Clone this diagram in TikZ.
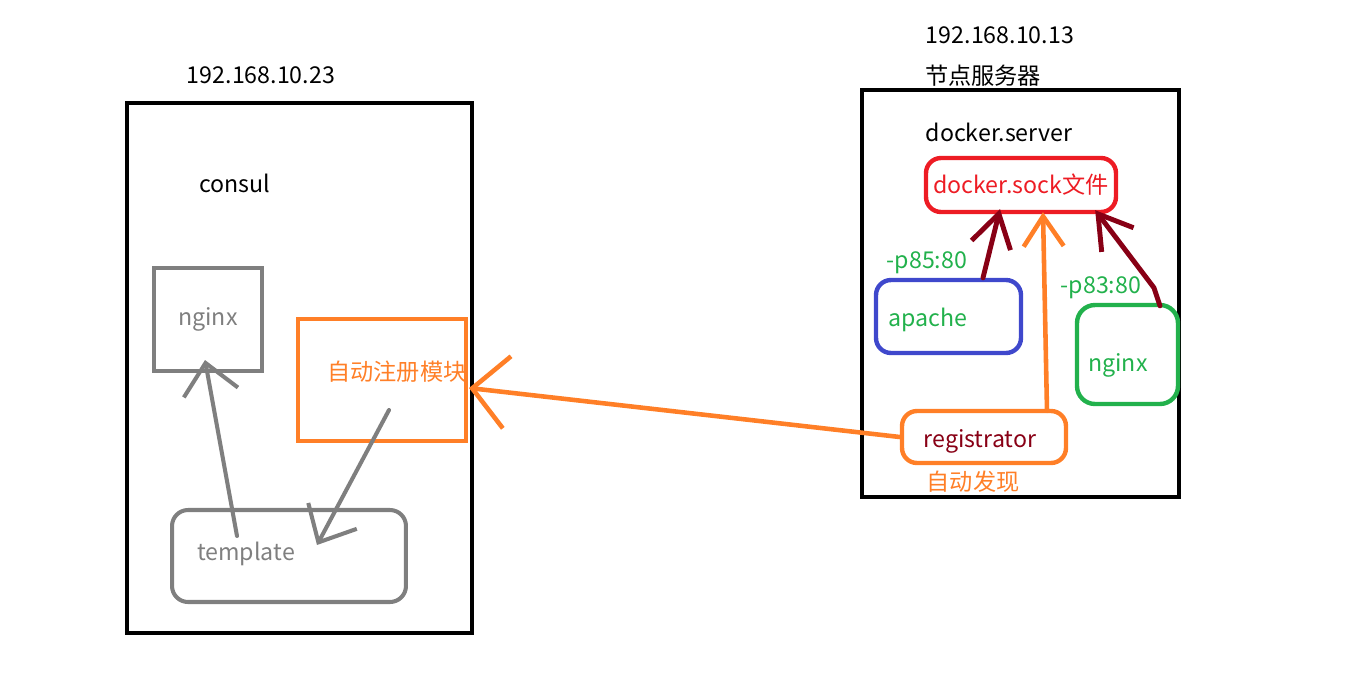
\documentclass[tikz,border=0pt]{standalone}
\usepackage{fontspec}
\setmainfont{Noto Sans CJK SC}
\usepackage{tikz}
\usetikzlibrary{positioning,arrows.meta,calc}
\definecolor{pgray}{HTML}{7F7F7F}
\definecolor{porange}{HTML}{FF7F27}
\definecolor{pred}{HTML}{ED1C24}
\definecolor{pblue}{HTML}{3F48CC}
\definecolor{pgreen}{HTML}{22B14C}
\definecolor{pdred}{HTML}{880015}

\begin{document}
\begin{tikzpicture}[x=0.02cm, y=-0.02cm, font=\fontsize{13.2}{15}\selectfont]
    \tikzstyle{frame}=[draw=black, line width=2.3pt, inner sep=0pt]
    \tikzstyle{gbox}=[draw=pgray, line width=2.3pt, text=pgray, inner sep=0pt]
    \tikzstyle{rbox}=[line width=2.5pt, rounded corners=0.3cm, inner sep=0pt]
    \tikzstyle{lbl}=[inner sep=0pt]
    \tikzstyle{garrow}=[draw=pgray, line width=2.3pt, line cap=round,
                        -{Straight Barb[length=0.6cm, width=1.1cm]}]
    \tikzstyle{oarrow}=[draw=porange, line width=2.6pt, line cap=round]
    \tikzstyle{darrow}=[draw=pdred, line width=2.8pt, line cap=round,
                        -{Straight Barb[length=0.65cm, width=0.8cm]}]

    \useasboundingbox (0,0) rectangle (1357,674);

    % consul host
    \node[frame, minimum width=6.9cm, minimum height=10.6cm] (left) at (299.5,368) {};
    \node[lbl] (ipl) at (261,75) {192.168.10.23};
    \node[lbl] (consul) at (235,183) {consul};
    \node[gbox, minimum width=2.16cm, minimum height=2.06cm] (ngl) at (208,319.5) {nginx};
    \node[gbox, rounded corners=0.32cm, minimum width=4.68cm, minimum height=1.84cm,
          label={[text=pgray, xshift=-0.86cm, yshift=0.04cm]center:template}] (tpl) at (289,556) {};
    \node[draw=porange, line width=2.3pt, inner sep=0pt, minimum width=3.36cm, minimum height=2.44cm,
          label={[text=porange, xshift=0.3cm, yshift=0.16cm]center:自动注册模块}] (auto) at (382,380) {};

    % node server
    \node[frame, minimum width=6.34cm, minimum height=8.14cm] (right) at (1020.5,293.5) {};
    \node[lbl] (ipr) at (1000,35) {192.168.10.13};
    \node[lbl] (srv) at (983,76) {节点服务器};
    \node[lbl] (dsrv) at (999,132) {docker.server};
    \node[rbox, draw=pred, text=pred, minimum width=3.8cm, minimum height=1.08cm] (sock) at (1021,185) {docker.sock文件};
    \node[rbox, draw=pblue, minimum width=2.9cm, minimum height=1.46cm,
          label={[text=pgreen, xshift=-0.41cm, yshift=-0.06cm]center:apache}] (apache) at (948.5,316.5) {};
    \node[rbox, draw=pgreen, rounded corners=0.36cm, minimum width=2.02cm, minimum height=1.98cm,
          label={[text=pgreen, xshift=-0.19cm, yshift=-0.21cm]center:nginx}] (ngr) at (1127.5,354.5) {};
    \node[rbox, draw=porange, minimum width=3.28cm, minimum height=1.04cm,
          label={[text=pdred, xshift=-0.08cm, yshift=-0.08cm]center:registrator}] (reg) at (984,437) {};
    \node[lbl, text=pgreen] (p85) at (927,263) {-p85:80};
    \node[lbl, text=pgreen] (p83) at (1101,288) {-p83:80};
    \node[lbl, text=porange] (find) at (973,482) {自动发现};

    % connectors
    \draw[garrow] ($(tpl.north west)+(67,28)$) -- ($(ngl.south)+(-3,-13)$);
    \draw[garrow] ($(auto.south)+(7,-33)$) -- ($(tpl.north)+(28,37)$);
    \draw[oarrow, -{Straight Barb[length=0.7cm, width=1.45cm]}] (reg.west) -- ($(auto.east)+(1,8)$);
    \draw[oarrow, -{Straight Barb[length=0.6cm, width=0.8cm]}] ($(reg.north)+(63,2)$) -- ($(sock.south)+(22,-2)$);
    \draw[darrow] ($(apache.north)+(34.5,0)$) -- ($(sock.south)+(-21,-5)$);
    \draw[darrow] ($(ngr.north)+(32.5,3)$) -- ($(ngr.north)+(26.5,-15)$) -- ($(sock.south east)+(-23,-4)$);
\end{tikzpicture}
\end{document}
